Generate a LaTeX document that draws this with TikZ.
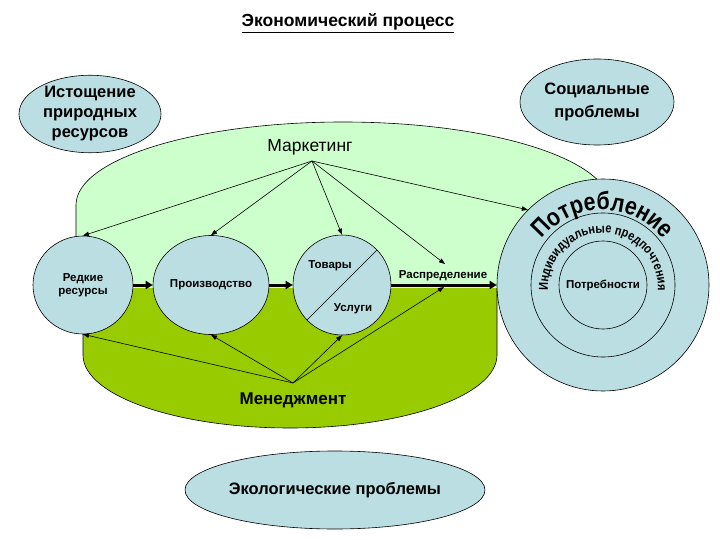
\documentclass[tikz,border=0pt]{standalone}
\usepackage{fontspec}
\setmainfont{Liberation Sans}
\newfontfamily\arcfont[FakeStretch=0.85]{Liberation Sans}
\usetikzlibrary{shapes.geometric,arrows.meta,decorations.text}

\definecolor{lgreen}{RGB}{204,255,204}
\definecolor{dgreen}{RGB}{153,204,0}
\definecolor{lblue}{RGB}{186,222,226}

\begin{document}
\begin{tikzpicture}[x=1pt,y=1pt,
  oval/.style={ellipse, draw=black, line width=0.6pt, fill=lblue, inner sep=0pt, align=center},
  ring/.style={circle, draw=black, line width=0.6pt, fill=lblue, inner sep=0pt, align=center},
  thinarr/.style={line width=0.6pt, -{Triangle[length=6pt,width=4.5pt]}},
  thickarr/.style={line width=3pt, -{Triangle[length=7pt,width=8pt]}},
  small/.style={font=\bfseries\fontsize{11.5}{13}\selectfont},
  big/.style={font=\bfseries\fontsize{16.5}{20}\selectfont},
  edge/.style={line width=0.6pt}
  ]
\useasboundingbox (0,0) rectangle (720,-540);
\fill[white] (0,0) rectangle (720,-540);

% title
\node[font=\bfseries\fontsize{17.5}{20}\selectfont] (title) at (348,-23) {\underline{Экономический процесс}};

% light green upper region
\fill[lgreen] (76,-288) -- (76,-205) arc[start angle=180,end angle=0,x radius=267,y radius=83] -- (610,-288) -- cycle;
\draw[edge] (76,-288) -- (76,-205) arc[start angle=180,end angle=0,x radius=267,y radius=83] -- (610,-288);

% dark green lower region
\fill[dgreen] (83,-288) -- (83,-355) arc[start angle=180,end angle=360,x radius=207,y radius=73] -- (497,-288) -- cycle;
\draw[edge] (83,-288) -- (83,-355) arc[start angle=180,end angle=360,x radius=207,y radius=73] -- (497,-288);

% outer problem ovals
\node[oval, big, minimum width=142pt, minimum height=72pt] (ist) at (90,-114) {Истощение\\природных\\ресурсов};
\node[oval, big, minimum width=154pt, minimum height=86pt, font=\bfseries\fontsize{16.5}{23}\selectfont] (soc) at (597,-102) {Социальные\\проблемы};
\node[oval, big, minimum width=256pt, minimum height=78pt] (eco) at (335,-490) {Экологические проблемы};

% process circles
\node[oval, small, minimum width=100pt, minimum height=98pt] (redk) at (83,-285) {Редкие\\ресурсы};
\node[oval, small, minimum width=98pt, minimum height=99pt] (proizv) at (211,-285) {Производство};
\node[oval, minimum width=98pt, minimum height=100pt] (tov) at (342,-285) {};
\draw[edge] (tov.45) -- (tov.225);
\node[small] (tovary) at (330,-266) {Товары};
\node[small] (uslugi) at (353,-309) {Услуги};

% consumption
\node[ring, minimum size=212pt] (potr) at (603,-285) {};
\node[ring, minimum size=144pt] (pred) at (603,-285) {};
\node[ring, small, minimum size=88pt] (potrebn) at (603,-285) {Потребности};
\path[shift={(603,-288)}, decorate, decoration={text along path, text align=center,
  text={|\arcfont\fontsize{25}{25}\selectfont\bfseries|Потребление}}]
  (180:78) arc[start angle=180, end angle=0, radius=78];
\path[shift={(603,-288)}, decorate, decoration={text along path, text align=center,
  text={|\arcfont\fontsize{13}{13}\selectfont\bfseries|Индивидуальные предпочтения}}]
  (215:55) arc[start angle=215, end angle=-35, radius=55];

% thick flow arrows
\draw[thickarr] (redk) -- (proizv);
\draw[thickarr] (proizv) -- (tov);
\draw[thickarr] (tov) -- (potr);
\node[small] (rasp) at (443,-276) {Распределение};

% marketing
\node[font=\fontsize{17.5}{20}\selectfont] (mkt) at (310,-147) {Маркетинг};
\coordinate (mk) at (312,-161);
\coordinate (raspm) at (445,-264);
\draw[thinarr] (mk) -- (redk.north);
\draw[thinarr] (mk) -- (proizv.north);
\draw[thinarr] (mk) -- (tov.north);
\draw[thinarr] (mk) -- (raspm);
\draw[thinarr] (mk) -- (potr.135);

% management
\node[font=\bfseries\fontsize{17}{20}\selectfont] (mng) at (293,-400) {Менеджмент};
\coordinate (mg) at (293,-383);
\coordinate (raspl) at (444,-287);
\draw[thinarr] (mg) -- (redk.south);
\draw[thinarr] (mg) -- (proizv.south);
\draw[thinarr] (mg) -- (tov.south);
\draw[thinarr] (mg) -- (raspl);
\end{tikzpicture}
\end{document}
